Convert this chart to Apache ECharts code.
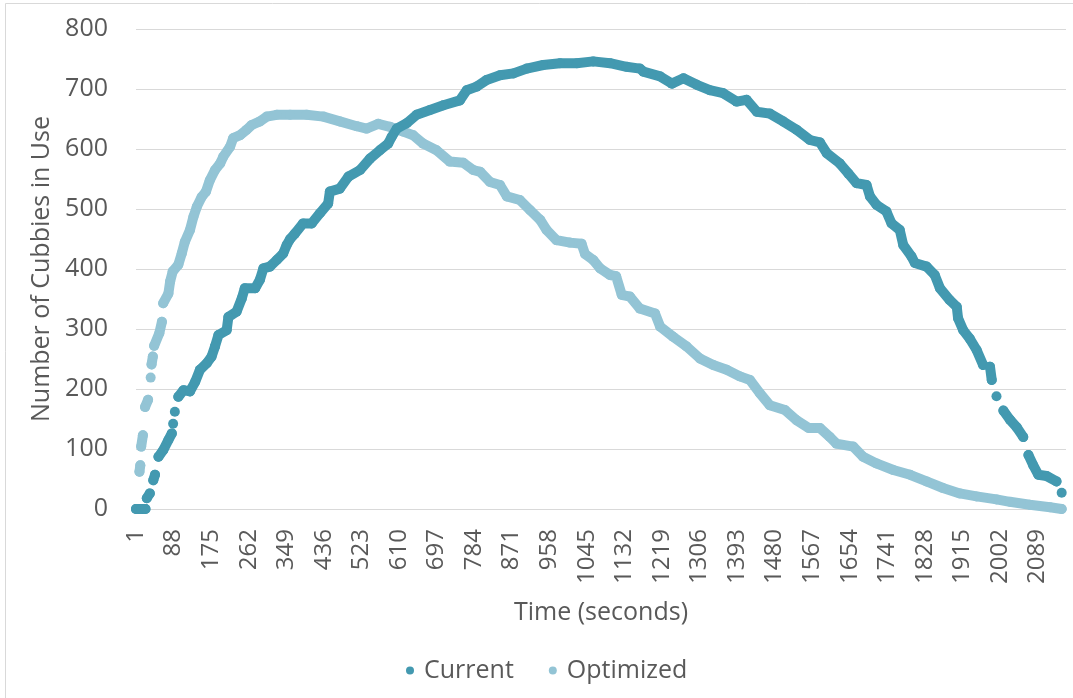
<!DOCTYPE html>
<html>
<head>
<meta charset="utf-8">
<title>Cubbies in Use</title>
<script src="https://cdn.jsdelivr.net/npm/echarts@6/dist/echarts.min.js"></script>
<style>
  html, body { margin: 0; padding: 0; background: #ffffff; }
  #chart { width: 1073px; height: 698px; }
</style>
</head>
<body>
<div id="chart"></div>
<script>
// Elapsed time (s) and cubbies in use; null marks a break in the trace.
var currentSec = [1,13,23,null,26,33,null,41,45,null,53,64,76,84,null,87,null,91,null,
  99,111,126,138,149,165,176,184,192,211,215,234,246,253,277,288,296,311,327,342,
  350,358,369,388,408,427,446,450,473,493,520,543,566,585,593,605,628,651,682,713,
  751,767,790,813,844,875,906,944,983,1022,1060,1099,1137,1168,1176,1215,1242,1269,1300,1330,
  1361,1392,1415,1439,1469,1500,1531,1562,1585,1601,1631,1651,1670,1693,1701,1716,1739,1751,1770,1778,
  1797,1805,1832,1851,1863,1886,1902,1905,1917,1932,1948,1963,null,1979,1983,null,1994,null,
  2010,2025,2041,2056,null,2068,2079,2091,2110,2133,null,2145];
var currentCubbies = [0,0,0,null,18,26,null,48,57,null,87,98,115,126,null,142,null,162,null,
  187,198,196,212,232,243,254,271,290,298,320,329,351,368,368,382,401,404,415,426,
  440,450,459,476,476,493,509,529,534,554,565,584,598,609,620,634,643,657,665,673,
  681,698,704,715,723,726,734,740,743,743,746,743,737,734,729,721,709,718,707,698,
  693,679,682,662,659,646,632,615,611,593,576,559,543,540,521,507,496,476,465,440,
  421,410,404,390,368,348,337,318,298,284,265,240,null,237,215,null,188,null,
  164,149,136,120,null,90,73,57,55,46,null,27];

var optimizedSec = [1,null,9,11,null,13,17,null,22,29,null,35,null,37,40,null,43,55,61,null,
  64,76,80,86,99,107,114,126,134,142,153,163,172,184,196,203,219,226,242,257,
  269,288,304,327,358,396,435,473,512,535,562,589,620,643,666,697,728,759,782,798,
  821,844,860,890,914,937,952,975,1006,1033,1041,1060,1076,1099,1113,1126,1145,1168,1203,1215,
  1245,1276,1307,1338,1369,1400,1423,1446,1469,1504,1531,1559,1585,1608,1623,1662,1685,1716,1755,1794,
  1832,1870,1909,1948,1994,2025,2071,2118,2145];
var optimizedCubbies = [0,null,62,73,null,104,123,null,170,182,null,219,null,241,254,null,272,293,312,null,
  343,359,379,396,407,426,445,465,487,504,520,529,548,565,576,587,604,618,623,632,
  640,646,654,657,657,657,654,646,638,634,642,637,629,623,609,598,579,577,565,562,
  545,540,521,515,498,482,465,448,444,442,425,415,401,390,388,357,354,334,326,304,
  287,271,251,240,232,221,215,193,173,165,148,135,135,120,109,104,87,76,65,57,
  46,35,26,21,16,12,7,3,0];

var seriesNames = ['Current', 'Optimized'];
var lastSecond = 2155;
var tickStep = 87;
var yTicks = { min: 0, max: 800, step: 100 };

var TEXT = '#595959';
var GRID_LINE = '#D9D9D9';
var FONT = '"Open Sans", "Noto Sans", sans-serif';

// x is plotted as seconds since the first sample, labels show the second number
function toPoints(secs, counts) {
  return secs.map(function (s, i) {
    if (s === null || counts[i] === null) return ['-', '-'];
    return [s - 1, counts[i]];
  });
}

function traceSeries(name, secs, counts, color, z) {
  return {
    name: name,
    type: 'line',
    data: toPoints(secs, counts),
    connectNulls: false,
    symbol: 'circle',
    symbolSize: 10,
    showSymbol: true,
    z: z,
    itemStyle: { color: color },
    lineStyle: { color: color, width: 10, cap: 'round', join: 'round' },
    emphasis: { disabled: true }
  };
}

var chart = echarts.init(document.getElementById('chart'), null, { renderer: 'canvas' });

chart.setOption({
  animation: false,
  backgroundColor: '#ffffff',
  textStyle: { fontFamily: FONT },
  graphic: [{
    type: 'rect',
    shape: { x: 5.5, y: 3.5, width: 1200, height: 900 },
    style: { fill: 'none', stroke: GRID_LINE, lineWidth: 1 },
    silent: true
  }],
  grid: { left: 136, right: 7, top: 29, bottom: 189 },
  legend: {
    data: seriesNames,
    left: 401,
    top: 653,
    icon: 'circle',
    itemWidth: 18,
    itemHeight: 8,
    itemGap: 35,
    textStyle: { fontSize: 25, color: TEXT, fontFamily: FONT }
  },
  xAxis: {
    type: 'value',
    min: 0,
    max: lastSecond - 1,
    interval: tickStep,
    name: 'Time (seconds)',
    nameLocation: 'middle',
    nameGap: 91,
    nameTextStyle: { fontSize: 25, color: TEXT, fontFamily: FONT },
    axisLine: { show: true, lineStyle: { color: GRID_LINE } },
    axisTick: { show: false },
    splitLine: { show: false },
    axisLabel: {
      rotate: 90,
      margin: 20,
      fontSize: 24,
      color: TEXT,
      fontFamily: FONT,
      showMaxLabel: false,
      formatter: function (v) { return String(v + 1); }
    }
  },
  yAxis: {
    type: 'value',
    min: yTicks.min,
    max: yTicks.max,
    interval: yTicks.step,
    name: 'Number of Cubbies in Use',
    nameLocation: 'middle',
    nameGap: 80,
    nameTextStyle: { fontSize: 25, color: TEXT, fontFamily: FONT },
    axisLine: { show: false },
    axisTick: { show: false },
    splitLine: { lineStyle: { color: GRID_LINE, width: 1 } },
    axisLabel: { margin: 28, fontSize: 25, color: TEXT, fontFamily: FONT }
  },
  series: [
    traceSeries(seriesNames[1], optimizedSec, optimizedCubbies, '#93C4D5', 2),
    traceSeries(seriesNames[0], currentSec, currentCubbies, '#4399B0', 3)
  ]
});
</script>
</body>
</html>
